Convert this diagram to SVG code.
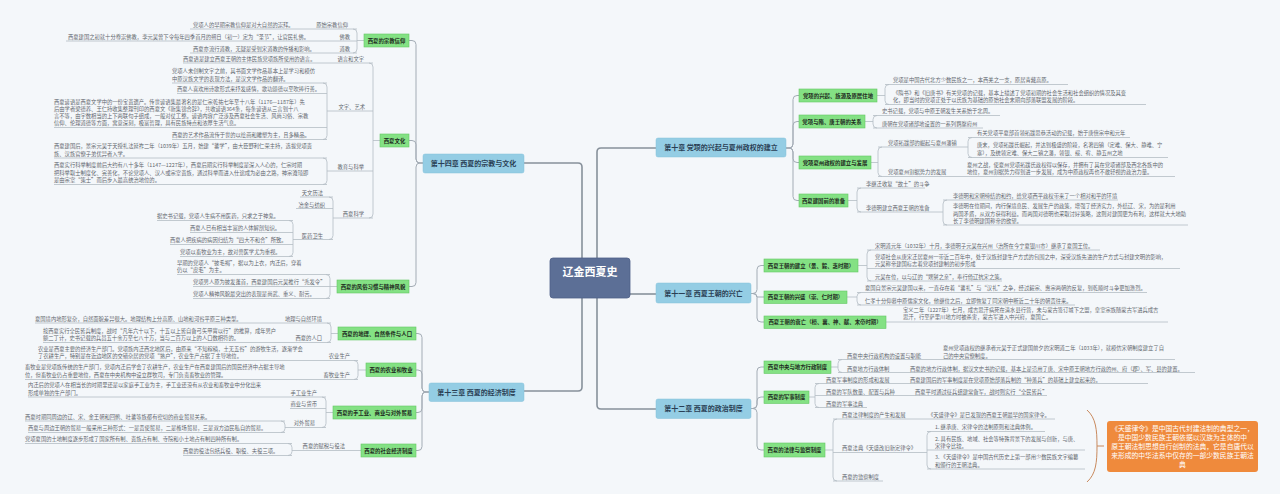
<svg xmlns="http://www.w3.org/2000/svg" width="1280" height="494" viewBox="0 0 1280 494">
<style>
text{font-family:"Noto Sans CJK SC","Noto Sans",sans-serif}
.lf{font-size:5.3px;fill:#5f666d}
.e{text-anchor:end}
.gt{font-size:5.4px;font-weight:bold;fill:#1e2a1e;text-anchor:middle}
.ct{font-size:7px;font-weight:bold;fill:#2a3f55;text-anchor:middle}
.ln{fill:none;stroke:#b4bcc4;stroke-width:0.8}
.br{fill:none;stroke:#a3acb5;stroke-width:1}
.tr{fill:none;stroke:#87919b;stroke-width:1.6}
.gn{fill:#84e184;stroke:#64c864;stroke-width:0.6}
.cn{fill:#94cde4;stroke:#85c0d8;stroke-width:0.5}
.ot{font-size:6.8px;fill:#ffffff;text-anchor:middle}
</style>
<rect width="1280" height="494" fill="#f4f7fa"/>
<g id="connectors">
<path class="tr" d="M524,163 H578 Q582,163 582,167 V387 Q582,391 578,391 H524"/>
<path class="tr" d="M656,148 H601 Q597,148 597,152 V405 Q597,409 601,409 H656"/>
<path class="tr" d="M630,294 H656"/>
<path class="br" d="M786,148 H789 Q793,148 793,144 V99.5 Q793,95.5 797,95.5 H799"/>
<path class="br" d="M786,148 H789 Q793,148 793,144 V125.5 Q793,121.5 797,121.5 H799"/>
<path class="br" d="M786,148 H789 Q793,148 793,152 V158.5 Q793,162.5 797,162.5 H799"/>
<path class="br" d="M786,148 H789 Q793,148 793,152 V196.5 Q793,200.5 797,200.5 H799"/>
<path class="br" d="M751,293.5 H753 Q757,293.5 757,289.5 V269.5 Q757,265.5 761,265.5 H764"/>
<path class="br" d="M751,293.5 H753 Q757,293.5 757,297 H764"/>
<path class="br" d="M751,293.5 H753 Q757,293.5 757,297.5 V318 Q757,322 761,322 H764"/>
<path class="br" d="M751,408.5 H753 Q757,408.5 757,404.5 V371 Q757,367 761,367 H764"/>
<path class="br" d="M751,408.5 H753 Q757,408.5 757,404.5 V401 Q757,397 761,397 H764"/>
<path class="br" d="M751,408.5 H753 Q757,408.5 757,412.5 V446 Q757,450 761,450 H764"/>
<path class="br" d="M423,163 H420 Q416,163 416,159 V44.5 Q416,40.5 412,40.5 H409"/>
<path class="br" d="M423,163 H420 Q416,163 416,159 V144.5 Q416,140.5 412,140.5 H409"/>
<path class="br" d="M423,163 H420 Q416,163 416,167 V282.5 Q416,286.5 412,286.5 H409"/>
<path class="br" d="M429,392 H426 Q422,392 422,388 V337.5 Q422,333.5 418,333.5 H416"/>
<path class="br" d="M429,392 H426 Q422,392 422,388 V374 Q422,370 418,370 H416"/>
<path class="br" d="M429,392 H426 Q422,392 422,396 V408.5 Q422,412.5 418,412.5 H416"/>
<path class="br" d="M429,392 H426 Q422,392 422,396 V446.5 Q422,450.5 418,450.5 H416"/>
<!-- ch10 leaves -->
<path class="ln" d="M877,95.5 H885 M889,84.5 Q885,84.5 885,88.5 V100.5 Q885,104.5 889,104.5 M885,84.5 H1068 M885,104.5 H1146"/>
<path class="ln" d="M865,121.5 H873 M877,115.5 Q873,115.5 873,119.5 V124 Q873,128 877,128 M873,115.5 H1000 M873,128 H983"/>
<path class="ln" d="M871,162.5 H878 M882,147 Q878,147 878,151 V172.5 Q878,176.5 882,176.5 M878,147 H968 M878,176.5 H1175"/>
<path class="ln" d="M972,137.5 Q968,137.5 968,141.5 V153.5 Q968,157.5 972,157.5 M968,137.5 H1130 M968,157.5 H1168"/>
<path class="ln" d="M848,200.5 H857 M861,188 Q857,188 857,192 V208 Q857,212 861,212 M857,188 H925 M857,212 H943"/>
<path class="ln" d="M947,200 Q943,200 943,204 V221 Q943,225 947,225 M943,200 H1118 M943,225 H1188"/>
<!-- ch11 leaves -->
<path class="ln" d="M858,265.5 H867 M871,250 Q867,250 867,254 V277 Q867,281 871,281 M867,250 H1100 M867,268.5 H1180 M867,281 H1002"/>
<path class="ln" d="M847,297 H857 M861,292.5 Q857,292.5 857,296.5 V301 Q857,305 861,305 M857,292.5 H1147 M857,305 H1075"/>
<path class="ln" d="M886,322 H1168"/>
<!-- ch12 leaves -->
<path class="ln" d="M831,367 H838 M842,359.5 Q838,359.5 838,363.5 V368.5 Q838,372.5 842,372.5 M838,359.5 H1175 M838,372.5 H1195"/>
<path class="ln" d="M809,397 H815 M819,383.5 Q815,383.5 815,387.5 V403.5 Q815,407.5 819,407.5 M815,383.5 H1148 M815,395.5 H1047 M815,407.5 H867"/>
<path class="ln" d="M825,450 H833 M837,419 Q833,419 833,423 V477 Q833,481 837,481 M833,419 H1055 M833,452.5 H927 M833,481 H883"/>
<path class="ln" d="M931,431.5 Q927,431.5 927,435.5 V465 Q927,469 931,469 M927,431.5 H1045 M927,450 H1085 M927,469 H1085"/>
<path fill="none" stroke="#c98a5e" stroke-width="1" d="M1087,410 C1096,418 1097,430 1097,446 C1097,462 1096,474 1087,482 M1097,446 H1104"/>
<!-- ch14 leaves -->
<path class="ln" d="M364,40.5 H357 M353,29 Q357,29 357,33 V49 Q357,53 353,53 M357,29 H190 M357,41 H66 M357,53 H190"/>
<path class="ln" d="M380,140.5 H373 M369,63 Q373,63 373,67 V214 Q373,218 369,218 M373,63 H183 M373,111 H327 M373,171 H327 M373,218 H333"/>
<path class="ln" d="M323,83 Q327,83 327,87 V135.5 Q327,139.5 323,139.5 M327,83 H172 M327,93.5 H177 M327,127.5 H54 M327,139.5 H172"/>
<path class="ln" d="M323,158 Q327,158 327,162 V180.5 Q327,184.5 323,184.5 M327,158 H54 M327,184.5 H54"/>
<path class="ln" d="M329,197 Q333,197 333,201 V235.5 Q333,239.5 329,239.5 M333,197 H300 M333,208.5 H296 M333,239.5 H293"/>
<path class="ln" d="M289,220.5 Q293,220.5 293,224.5 V252.5 Q293,256.5 289,256.5 M293,220.5 H157 M293,232.5 H190 M293,244.5 H170 M293,256.5 H180"/>
<path class="ln" d="M337,286.5 H330 M326,274.5 Q330,274.5 330,278.5 V294.5 Q330,298.5 326,298.5 M330,274.5 H177 M330,286.5 H193 M330,298.5 H193"/>
<!-- ch13 leaves -->
<path class="ln" d="M338,333.5 H331 M327,323 Q331,323 331,327 V338.5 Q331,342.5 327,342.5 M331,323 H35 M331,342.5 H43"/>
<path class="ln" d="M366,370 H358 M354,360.5 Q358,360.5 358,364.5 V375.5 Q358,379.5 354,379.5 M358,360.5 H38 M358,379.5 H25"/>
<path class="ln" d="M333,412.5 H326 M322,397 Q326,397 326,401 V423.5 Q326,427.5 322,427.5 M326,397 H28 M326,408.5 H290 M326,427.5 H285"/>
<path class="ln" d="M281,421 Q285,421 285,425 V428.5 Q285,432.5 281,432.5 M285,421 H25 M285,432.5 H28"/>
<path class="ln" d="M361,450.5 H292 M288,443.5 Q292,443.5 292,447.5 V451.5 Q292,455.5 288,455.5 M292,443.5 H25 M292,455.5 H183"/>
</g>

<g id="root"><rect x="550" y="258" width="80" height="40" rx="3" fill="#5c6f96" stroke="#4e6088" stroke-width="0.8"/><text x="590" y="276" font-size="11" font-weight="bold" fill="#ffffff" text-anchor="middle">辽金西夏史</text></g>

<g id="ch10"><rect class="cn" x="656" y="138" width="130" height="19" rx="2"/><text class="ct" x="721" y="150">第十章 党项的兴起与夏州政权的建立</text></g>
<g id="ch11"><rect class="cn" x="656" y="283" width="95" height="20" rx="2"/><text class="ct" x="703.5" y="295.5">第十一章 西夏王朝的兴亡</text></g>
<g id="ch12"><rect class="cn" x="656" y="399" width="95" height="19.5" rx="2"/><text class="ct" x="703.5" y="411">第十二章 西夏的政治制度</text></g>
<g id="ch14"><rect class="cn" x="423" y="154" width="101" height="19" rx="2"/><text class="ct" x="473.5" y="166">第十四章 西夏的宗教与文化</text></g>
<g id="ch13"><rect class="cn" x="429" y="383" width="95" height="18.5" rx="2"/><text class="ct" x="476.5" y="394.5">第十三章 西夏的经济制度</text></g>

<g id="n10a"><rect class="gn" x="799" y="89" width="78" height="13"/><text class="gt" x="838" y="97.5">党项的兴起、族源及原居住地</text></g>
<g id="n10b"><rect class="gn" x="799" y="115" width="66" height="13"/><text class="gt" x="832" y="123.5">党项与隋、唐王朝的关系</text></g>
<g id="n10c"><rect class="gn" x="799" y="156" width="72" height="13"/><text class="gt" x="835" y="164.5">党项夏州政权的建立与发展</text></g>
<g id="n10d"><rect class="gn" x="799" y="194" width="49" height="13"/><text class="gt" x="823.5" y="202.5">西夏建国前的准备</text></g>

<g id="l10a"><text class="lf" x="893" y="82">党项是中国古代北方少数民族之一，本西羌之一支，原居青藏高原。</text><text class="lf" x="893" y="94.5">《隋书》和《旧唐书》有关党项的记载，基本上描述了党项初期的社会生活和社会组织的情况及其变</text><text class="lf" x="893" y="102">化，即当时的党项正处于以氏族为基础的原始社会末期向部落联盟发展的阶段。</text></g>
<g id="l10b"><text class="lf" x="882" y="113">史书记载，党项与中原王朝发生关系始于北周。</text><text class="lf" x="882" y="125.5">唐朝在党项诸部地设置的一系列羁縻府州</text></g>
<g id="l10c"><text class="lf" x="888" y="144.5">党项拓跋部的崛起与夏州藩镇</text><text class="lf" x="888" y="174">党项夏州割据势力的发展</text>
<text class="lf" x="977" y="135">有关党项平夏部首领拓跋思恭活动的记载，始于唐僖宗中和元年</text>
<text class="lf" x="977" y="147">唐末，党项拓跋氏崛起，并达到极盛的阶段，名著四镇（定难、保大、静难、宁</text><text class="lf" x="977" y="155">塞），及统领定难、保大二镇之藩，领银、绥、宥、静五州之地</text>
<text class="lf" x="967" y="166.5">夏州之战，使夏州党项拓跋氏政权得以保存，并拥有了其在党项诸部及西北各族中的</text><text class="lf" x="967" y="174">地位，夏州割据势力得到进一步发展，成为中原政权再也不敢轻视的政治力量。</text></g>
<g id="l10d"><text class="lf" x="866" y="185.5">李继迁收复“故土”的斗争</text><text class="lf" x="866" y="209.5">李德明建立西夏王朝的准备</text>
<text class="lf" x="953" y="197.5">李德明和宋朝缔结的和约，给党项西平政权带来了一个相对和平的环境</text>
<text class="lf" x="953" y="208">李德明在位期间，内行保境息民、发展生产的政策，增强了经济实力，外结辽、宋，为的是利用</text><text class="lf" x="953" y="215.5">两国矛盾，从双方获得利益。而两国对德明也采取讨好策略，这则对建国更为有利，这样就大大地助</text><text class="lf" x="953" y="223">长了李德明建国称帝的欲望。</text></g>

<g id="n11a"><rect class="gn" x="764" y="259" width="94" height="13"/><text class="gt" x="811" y="267.5">西夏王朝的建立（景、毅、惠时期）</text></g>
<g id="n11b"><rect class="gn" x="764" y="291" width="83" height="12.5"/><text class="gt" x="805.5" y="299.3">西夏王朝的兴盛（崇、仁时期）</text></g>
<g id="n11c"><rect class="gn" x="764" y="316" width="122" height="12.5"/><text class="gt" x="825" y="324.3">西夏王朝的衰亡（桓、襄、神、献、末帝时期）</text></g>
<g id="l11a"><text class="lf" x="875" y="247.5">宋明道元年（1032年）十月，李德明子元昊在兴州（治所在今宁夏银川市）继承了夏国王位。</text>
<text class="lf" x="875" y="259">党项社会从唐宋迁居夏州一带近二百年中，处于汉族封建生产方式的包围之中，深受汉族先进的生产方式与封建文明的影响，</text><text class="lf" x="875" y="266">元昊称帝建国标志着党项封建制的初步形成</text>
<text class="lf" x="875" y="278.5">元昊在位，以与辽的“甥舅之亲”，奉行倚辽抗宋之策。</text></g>
<g id="l11b"><text class="lf" x="865" y="290">夏国自景宗元昊建国以来，一直存在着“蕃礼”与“汉礼”之争，经过毅宗、惠宗两朝的反复，到乾顺时斗争更加激烈。</text>
<text class="lf" x="865" y="302.5">仁孝十分仰慕中原儒家文化，他继位之后，立即恢复了同宋朝中断近二十年的朝贡往来。</text></g>
<g id="l11c"><text class="lf" x="903" y="311.5">宝义二年（1227年）七月，成吉思汗病死在清水县行营，未与蒙古签订城下之盟，皇室宗族随蒙古军进兵成吉</text><text class="lf" x="903" y="319">思汗，行至萨里川地方时被杀害，蒙古军进入中兴府，夏国亡。</text></g>

<g id="n12a"><rect class="gn" x="764" y="361" width="67" height="12.5"/><text class="gt" x="797.5" y="369.3">西夏中央与地方行政制度</text></g>
<g id="n12b"><rect class="gn" x="764" y="391" width="45" height="12.5"/><text class="gt" x="786.5" y="399.3">西夏的军事制度</text></g>
<g id="n12c"><rect class="gn" x="764" y="443" width="61" height="14"/><text class="gt" x="794.5" y="452">西夏的法律与监察制度</text></g>
<g id="l12a"><text class="lf" x="847" y="357.5">西夏中央行政机构的设置与职能</text><text class="lf" x="943" y="350">夏州党项政权的继承者元昊于正式建国前夕的宋明道二年（1033年），就模仿宋朝制度建立了自</text><text class="lf" x="943" y="357.5">己的中央官僚制度。</text>
<text class="lf" x="847" y="370.5">西夏地方行政体制</text><text class="lf" x="910" y="370.5">西夏的地方行政体制，据汉文史书的记载，基本上是沿用了唐、宋中原王朝地方行政的州、府（郡）、军、县的建置。</text></g>
<g id="l12b"><text class="lf" x="826" y="381.5">西夏军事制度的形成和发展</text><text class="lf" x="910" y="381.5">西夏建国后的军事制度是在党项原始部落兵制的“种落兵”的基础上建立起来的。</text>
<text class="lf" x="826" y="393.5">西夏的军队数量、配置与兵种</text><text class="lf" x="915" y="393.5">西夏平时通过征兵组建常备军，战时则实行“全民皆兵”</text>
<text class="lf" x="826" y="405.5">西夏的军事法典</text></g>
<g id="l12c"><text class="lf" x="842" y="416.5">西夏法律制度的产生和发展</text><text class="lf" x="928" y="416.5">《天盛律令》是已发现的西夏王朝最早的国家律令。</text>
<text class="lf" x="842" y="450">西夏法典《天盛改旧新定律令》</text>
<text class="lf" x="935" y="429">1. 继承唐、宋律令的法制原则和法典体例。</text>
<text class="lf" x="935" y="440.5">2. 具有民族、地域、社会等特殊背景下的发展与创新，与唐、</text><text class="lf" x="935" y="447.5">宋律令比较。</text>
<text class="lf" x="935" y="459">3. 《天盛律令》是中国古代历史上第一部用少数民族文字编纂</text><text class="lf" x="935" y="466.5">和颁行的王朝法典。</text>
<text class="lf" x="842" y="478.5">西夏的监察制度</text></g>
<g id="summary"><rect x="1107" y="421" width="151" height="51" rx="3" fill="#ef8a3c"/>
<text class="ot" x="1182.5" y="431">《天盛律令》是中国古代封建法制的典型之一，</text>
<text class="ot" x="1182.5" y="440">是中国少数民族王朝依据以汉族为主体的中</text>
<text class="ot" x="1182.5" y="449">原王朝法制思想自行创制的法典，它是自唐代以</text>
<text class="ot" x="1182.5" y="458">来形成的中华法系中仅存的一部少数民族王朝法</text>
<text class="ot" x="1182.5" y="467">典</text></g>

<g id="n14a"><rect class="gn" x="364" y="34" width="45" height="13"/><text class="gt" x="386.5" y="42.5">西夏的宗教信仰</text></g>
<g id="n14b"><rect class="gn" x="380" y="134" width="29" height="13"/><text class="gt" x="394.5" y="142.5">西夏文化</text></g>
<g id="n14c"><rect class="gn" x="337" y="280" width="72" height="13"/><text class="gt" x="373" y="288.5">西夏的风俗习惯与精神风貌</text></g>
<g id="l14a"><text class="lf e" x="348" y="26.5">原始宗教信仰</text><text class="lf e" x="350" y="38.5">佛教</text><text class="lf e" x="350" y="50.5">道教</text>
<text class="lf" x="193" y="26.5">党项人的早期宗教信仰是对大自然的崇拜。</text>
<text class="lf" x="68" y="38.5">西夏建国之初就十分尊崇佛教，李元昊曾下令每年四季首月的朔日（初一）定为“圣节”，让官民礼佛。</text>
<text class="lf" x="193" y="50.5">西夏亦流行道教，无疑是受到宋道教的传播和影响。</text></g>
<g id="l14b"><text class="lf e" x="364" y="60.5">语言和文字</text><text class="lf" x="183" y="60.5">西夏语是建立西夏王朝的主体民族党项族所使用的语言。</text>
<text class="lf e" x="365" y="108.5">文字、艺术</text>
<text class="lf" x="172" y="73">党项人未创制文字之前，其书面文学作品基本上是学习和模仿</text><text class="lf" x="172" y="80.5">中原汉族文学的表现方法，是汉文学作品的翻译。</text>
<text class="lf" x="177" y="91">西夏人喜欢用诗歌形式来抒发感情，歌功颂德以至吹捧行善。</text>
<text class="lf" x="54" y="103.5">西夏谚语是西夏文学中的一份宝贵遗产。传世谚语集最著名的是仁宗乾祐七年至十八年（1176—1187年）先</text>
<text class="lf" x="54" y="110.5">后由学者梁德养、王仁持收集整理刊印的西夏文《新集锦合辞》，共收谚语364条，每条谚语从三言到十八</text>
<text class="lf" x="54" y="117.5">言不等，由字数相当的上下两联句子组成，一般对仗工整。谚语内容广泛涉及西夏社会生活、风尚习俗、宗教</text>
<text class="lf" x="54" y="124.5">信仰、伦理道德等方面，寓意深刻，极富哲理，具有民族特点和浓厚生活气息。</text>
<text class="lf" x="172" y="137">西夏的艺术作品流传于世的以绘画和雕塑为主，且多精品。</text>
<text class="lf e" x="364" y="168.5">教育与科举</text>
<text class="lf" x="54" y="148">西夏建国后，景宗元昊于天授礼法延祚二年（1039年）五月，始建“蕃学”，由大臣野利仁荣主持，选拔党项贵</text><text class="lf" x="54" y="155.5">族、汉族官僚子弟优异者入学。</text>
<text class="lf" x="54" y="167">西夏实行科举制度前后大约有八十多年（1147—1227年），西夏后期实行科举制度是深入人心的，仁宗时期</text><text class="lf" x="54" y="174.5">把科举取士制度化、完善化，不论党项人、汉人或宗室贵族，通过科举而进入仕途成为必由之路，神宗遵顼即</text><text class="lf" x="54" y="182">是由宗室“策士”而后步入最高统治地位的。</text>
<text class="lf e" x="364" y="215.5">西夏科学</text>
<text class="lf e" x="323" y="195">天文历法</text><text class="lf e" x="325" y="206.5">冶金与纺织</text><text class="lf e" x="323" y="237.5">医药卫生</text>
<text class="lf" x="157" y="218">据史书记载，党项人生病不用医药，只求之于神鬼。</text>
<text class="lf" x="190" y="230">西夏人已有相当丰富的人体解剖知识。</text>
<text class="lf" x="170" y="242">西夏人把疾病的病因归结为“四大不和合”所致。</text>
<text class="lf" x="180" y="254">党项以畜牧业为主，故对兽医学尤为重视。</text></g>
<g id="l14c"><text class="lf" x="177" y="264.5">早期的党项人“披毛褐”，据以为上衣，内迁后，穿着</text><text class="lf" x="177" y="272">仍以“皮毛”为主。</text>
<text class="lf" x="193" y="284">党项男人原为披发蓬首，西夏建国后元昊推行“秃发令”</text>
<text class="lf" x="193" y="296">党项人精神风貌最突出的表现是尚武、重义、耐苦。</text></g>

<g id="n13a"><rect class="gn" x="338" y="327" width="78" height="13"/><text class="gt" x="377" y="335.5">西夏的地理、自然条件与人口</text></g>
<g id="n13b"><rect class="gn" x="366" y="363" width="50" height="13.5"/><text class="gt" x="391" y="372">西夏的农业和牧业</text></g>
<g id="n13c"><rect class="gn" x="333" y="406" width="83" height="13"/><text class="gt" x="374.5" y="414.5">西夏的手工业、商业与对外贸易</text></g>
<g id="n13d"><rect class="gn" x="361" y="444" width="55" height="13"/><text class="gt" x="388.5" y="452.5">西夏的社会经济制度</text></g>
<g id="l13a"><text class="lf e" x="322" y="320.5">地理与自然环境</text><text class="lf" x="35" y="320.5">夏国境内地形复杂，自然面貌差异很大。地理结构上分高原、山地和河谷平原三种类型。</text>
<text class="lf e" x="322" y="340">西夏的人口</text><text class="lf" x="43" y="332.5">按西夏实行全民皆兵制度，战时“凡年六十以下，十五以上皆自备弓矢甲胄以行”的推算，成年男户</text><text class="lf" x="43" y="340">额二丁计，史书记载的兵员五十余万至七八十万，当与二百万以上的人口数相符的。</text></g>
<g id="l13b"><text class="lf e" x="350" y="358">农业生产</text><text class="lf" x="38" y="350.5">农业是西夏主要的经济生产部门。党项族内迁西北地区后，由原来“不知稼穑，土无五谷”的游牧生活，逐渐学会</text><text class="lf" x="38" y="358">了农耕生产，特别是在近边地区的交错杂居的党项“熟户”，农业生产占据了主导地位。</text>
<text class="lf e" x="350" y="377">畜牧业生产</text><text class="lf" x="25" y="369">畜牧业是党项族传统的生产部门，党项内迁后学会了农耕生产，农业生产在西夏建国后的国民经济中占据主导地</text><text class="lf" x="25" y="376.5">位，但畜牧业仍占重要地位，西夏在中央机构中设立群牧司，专门负责畜牧业的管理。</text></g>
<g id="l13c"><text class="lf e" x="317" y="394.5">手工业生产</text><text class="lf" x="28" y="387">内迁后的党项人在相当长的时期里还是以家庭手工业为主，手工业还没有从农业和畜牧业中分化出来</text><text class="lf" x="28" y="394.5">形成单独的生产部门。</text>
<text class="lf e" x="317" y="406">商业与货币</text><text class="lf e" x="315" y="425">对外贸易</text>
<text class="lf" x="25" y="418.5">西夏时期同周边的辽、宋、金王朝和回鹘、吐蕃等族都有密切的商业贸易关系。</text>
<text class="lf" x="28" y="430">西夏与周边王朝的贸易一般采用三种形式：一是贡使贸易，二是榷场贸易，三是双方边民私自的贸易。</text></g>
<g id="l13d"><text class="lf e" x="345" y="448">西夏的赋税与役法</text>
<text class="lf" x="25" y="441">党项夏国的土地制度逐步形成了国家所有制、贵族占有制、寺院和小土地占有制四种所有制。</text>
<text class="lf" x="183" y="453">西夏的役法包括兵役、职役、夫役三项。</text></g>
</svg>
